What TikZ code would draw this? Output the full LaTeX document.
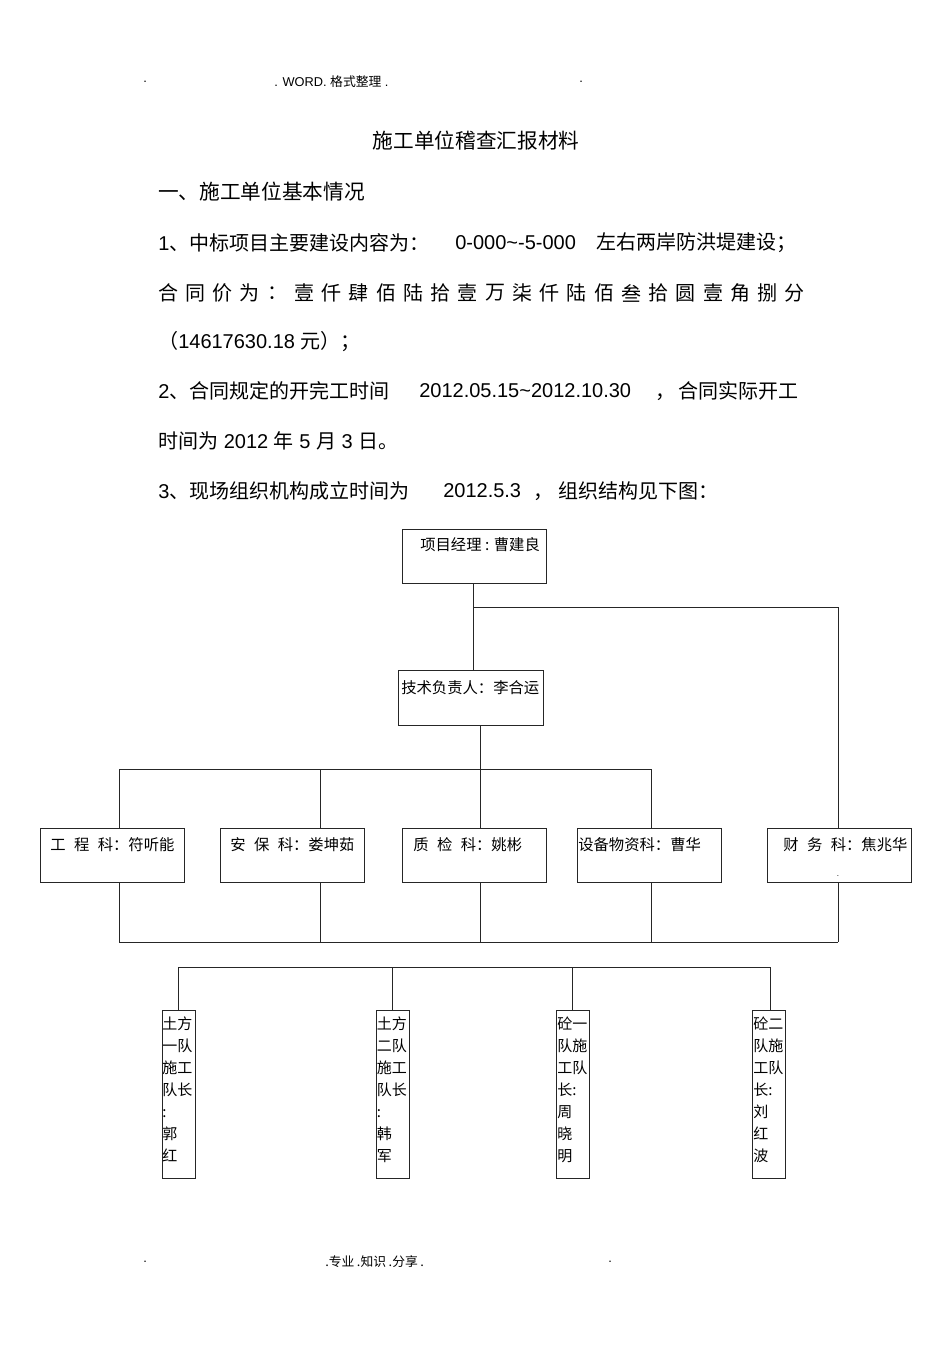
\documentclass[tikz,border=0pt]{standalone}
\usepackage{fontspec}
\setmainfont{Liberation Sans}
\newfontfamily\cjk{Noto Sans CJK SC}
\newcommand\gp{\hspace{0.55em}}
\begin{document}
\begin{tikzpicture}[x=0.75pt,y=-0.75pt,
  txt/.style={inner sep=0pt,anchor=west},
  body/.style={txt,font=\fontsize{15}{18}\selectfont},
  small/.style={txt,font=\fontsize{11.5}{14}\selectfont\cjk},
  hdr/.style={txt,font=\fontsize{9.6}{11}\selectfont},
  box/.style={draw=black!85,line width=0.7pt,inner sep=0pt,minimum width=108pt,minimum height=40.5pt},
  tbox/.style={draw=black!85,line width=0.7pt,inner sep=0pt,minimum width=24.75pt,minimum height=126pt},
  team/.style={inner sep=0pt,anchor=north west,align=left,font=\fontsize{11.25}{16.5}\selectfont\cjk},
  conn/.style={draw=black!85,line width=0.7pt}]
\useasboundingbox (0,0) rectangle (950,1345);
\fill[white] (0,0) rectangle (950,1345);

% header
\node[hdr] (h1) at (143,82) {.};
\node[hdr] (h2) at (274,82) {. WORD. {\cjk 格式整理} .};
\node[hdr] (h3) at (579,82) {.};

% title
\node[inner sep=0pt,font=\fontsize{15.5}{18}\selectfont\cjk] (title) at (476,141) {施工单位稽查汇报材料};
\node[body,font=\fontsize{15.5}{18}\selectfont\cjk] (sec1) at (158,192) {一、施工单位基本情况};

% line 1
\node[body] (l1a) at (158,243) {1{\cjk 、中标项目主要建设内容为：}};
\node[body] (l1b) at (455,243) {0-000\textasciitilde-5-000};
\node[body] (l1c) at (596,243) {\cjk 左右两岸防洪堤建设；};

% contract price, spread
\foreach \c [count=\i from 0] in {合,同,价,为,：,壹,仟,肆,佰,陆,拾,壹,万,柒,仟,陆,佰,叁,拾,圆,壹,角,捌,分}
  \node[inner sep=0pt,font=\fontsize{15}{18}\selectfont\cjk] (p\i) at (168+\i*27.26,293) {\c};

\node[body] (l3) at (158,342) {{\cjk （}14617630.18 {\cjk 元）；}};

% line 2
\node[body] (l4a) at (158,391) {2{\cjk 、合同规定的开完工时间}};
\node[body] (l4b) at (419,391) {2012.05.15\textasciitilde2012.10.30};
\node[body] (l4c) at (655,391) {{\cjk ，\hspace{0.15em}合同实际开工}};
\node[body] (l5) at (158,441) {{\cjk 时间为} 2012 {\cjk 年} 5 {\cjk 月} 3 {\cjk 日。}};

% line 3
\node[body] (l6a) at (158,491) {3{\cjk 、现场组织机构成立时间为}};
\node[body] (l6b) at (443,491) {2012.5.3};
\node[body] (l6c) at (533,491) {{\cjk ，\hspace{0.25em}组织结构见下图：}};

% org chart boxes
\node[box] (pm) at (474,556) {};
\node[small] (pmt) at (420,545) {项目经理 : 曹建良};
\node[box,minimum width=108.75pt,minimum height=41.25pt] (tech) at (470.5,697.5) {};
\node[small] (techt) at (401,688) {技术负责人：李合运};

\node[box] (gc) at (112,855) {};
\node[box] (ab) at (292,855) {};
\node[box] (zj) at (474,855) {};
\node[box] (sb) at (649,855) {};
\node[box] (cw) at (839,855) {};
\node[small] (gct) at (50,845) {工\gp 程\gp 科：符听能};
\node[small] (abt) at (230,845) {安\gp 保\gp 科：娄坤茹};
\node[small] (zjt) at (413,845) {质\gp 检\gp 科：姚彬};
\node[small] (sbt) at (578,845) {设备物资科：曹华};
\node[small] (cwt) at (783,845) {财\gp 务\gp 科：焦兆华};
\node[inner sep=0pt,font=\fontsize{6}{7}\selectfont] (cwdot) at (838,876) {.};

% team boxes
\node[tbox] (t1) at (178.5,1094) {};
\node[tbox] (t2) at (393,1094) {};
\node[tbox] (t3) at (572.5,1094) {};
\node[tbox] (t4) at (768.5,1094) {};
\node[team] (t1t) at (162,1017) {土方\\一队\\施工\\队长\\:\\郭\\红};
\node[team] (t2t) at (376.5,1017) {土方\\二队\\施工\\队长\\:\\韩\\军};
\node[team] (t3t) at (557,1017) {砼一\\队施\\工队\\长:\\周\\晓\\明};
\node[team] (t4t) at (753,1017) {砼二\\队施\\工队\\长:\\刘\\红\\波};

% connector coordinates
\coordinate (j1) at (473,607);
\coordinate (b1) at (119,769);
\coordinate (b2) at (320,769);
\coordinate (b3) at (480,769);
\coordinate (b4) at (651,769);
\coordinate (c1) at (119,942);
\coordinate (c2) at (320,942);
\coordinate (c3) at (480,942);
\coordinate (c4) at (651,942);
\coordinate (c5) at (838,942);
\coordinate (d1) at (178,967);
\coordinate (d2) at (392,967);
\coordinate (d3) at (572,967);
\coordinate (d4) at (770,967);

% connectors
\draw[conn] (pm.south -| j1) -- (tech.north -| j1);
\draw[conn] (j1) -| (cw.north -| c5);
\draw[conn] (tech.south -| b3) -- (b3);
\draw[conn] (b1) -- (b4);
\draw[conn] (b1) -- (gc.north -| b1);
\draw[conn] (b2) -- (ab.north -| b2);
\draw[conn] (b3) -- (zj.north -| b3);
\draw[conn] (b4) -- (sb.north -| b4);
\draw[conn] (gc.south -| c1) -- (c1);
\draw[conn] (ab.south -| c2) -- (c2);
\draw[conn] (zj.south -| c3) -- (c3);
\draw[conn] (sb.south -| c4) -- (c4);
\draw[conn] (cw.south -| c5) -- (c5);
\draw[conn] (c1) -- (c5);
\draw[conn] (d1) -- (d4);
\draw[conn] (d1) -- (t1.north -| d1);
\draw[conn] (d2) -- (t2.north -| d2);
\draw[conn] (d3) -- (t3.north -| d3);
\draw[conn] (d4) -- (t4.north -| d4);

% footer
\node[hdr] (f1) at (143,1262) {.};
\node[hdr] (f2) at (325,1262) {{\cjk .专业\hspace{0.2em}.知识\hspace{0.2em}.分享\hspace{0.2em}.}};
\node[hdr] (f3) at (608,1262) {.};
\end{tikzpicture}
\end{document}
